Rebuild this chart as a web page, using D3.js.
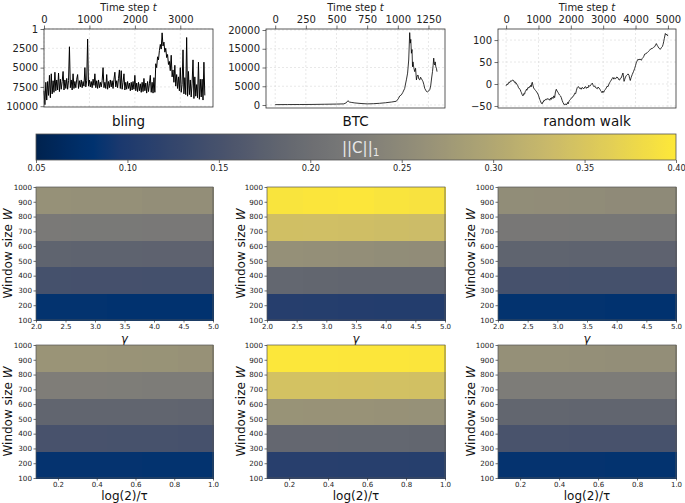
<!DOCTYPE html>
<html><head><meta charset="utf-8">
<script src="https://cdn.jsdelivr.net/npm/d3@7"></script>
<style>
body{margin:0;background:#fff;}
svg{display:block;font-family:"DejaVu Sans",sans-serif;}
</style></head><body>
<svg id="c" width="685" height="503"></svg>
<script>
// ---------------- DATA ----------------
// bling rank, sampled every 20 time steps (t = 0 .. 3540)
const blingStep = 20;
const blingRank = [
 8000,9800,6900,9200,6800,8600,6000,8900,5800,8400,
 6700,8200,5600,8000,6600,7900,5700,8100,6500,7800,
 6800,5500,7900,6600,7700,6400,7800,6700,2300,7600,
 6600,7900,5800,7700,6800,7600,6500,5900,7700,6700,
 7500,6600,7600,6800,7400,5000,7500,6700,1300,7400,
 6600,7500,6800,7600,6500,7300,5800,7600,6700,7700,
 6600,7600,6900,7500,6700,5000,7600,6900,7700,5900,
 7800,6800,7600,6600,7500,6700,7700,6500,5600,7500,
 6700,7600,6400,5300,7700,5400,7800,6900,5800,7900,
 6900,7800,6800,7700,7000,8000,6900,7900,6800,7800,
 6000,8000,7000,8100,6900,8000,7100,8200,6900,8100,
 6400,8000,7000,8300,6800,8100,7100,6000,8200,6900,
 8300,6300,8200,4500,5000,3600,4000,2800,2000,2600,
 500,2200,1700,3000,2500,3700,3300,4600,4200,5400,
 3400,6200,5300,6900,4700,7400,5900,7700,6200,8000,
 5000,8200,7200,2700,8400,6300,8500,1100,8700,5500,
 8500,6600,8800,7000,4000,9000,6200,8700,7200,8900,
 4300,9100,6500,8800,6500,9200,4300,8600
];
// BTC price (USD)
const btcT = [0,100,200,300,400,500,560,580,593,605,620,650,700,750,800,850,900,950,988,1005,1015,1029,1040,1056,1063,1070,
 1080,1089,1097,1102,1106,1111,1116,1120,1124,1130,1138,1145,1152,1158,1165,1172,1179,1186,1193,1200,1206,1213,1220,1227,1234,
 1242,1250,1255,1262,1269,1276,1283,1288,1293,1297,1301,1305,1310,1315,1320];
const btcPrice = [100,120,130,150,200,250,300,600,1150,800,700,550,400,300,350,450,600,800,1000,1700,2400,2700,3300,4400,5600,6700,
 8500,12000,19300,16500,17500,13800,14800,10200,11500,10000,8900,9800,6700,7800,8000,6900,6700,7400,7000,6600,6200,5400,4400,4000,3600,
 3500,3700,3800,4200,5300,7200,8900,10500,12500,11000,10700,11500,10200,9800,8900];
// random walk
const rwT = [0,30,58,85,110,135,161,190,233,255,280,300,315,340,360,380,398,420,440,455,470,495,521,545,573,590,610,630,645,675,
 707,725,740,760,779,795,810,830,851,880,913,945,985,1005,1020,1040,1057,1090,1119,1135,1150,1170,1191,1215,1240,1265,1294,1320,1350,1375,
 1397,1420,1450,1475,1500,1525,1551,1575,1603,1625,1650,1680,1706,1730,1757,1785,1809,1830,1850,1881,1900,1920,1940,1963,1990,2020,2040,2066,
 2100,2120,2149,2175,2200,2221,2250,2270,2293,2320,2345,2375,2400,2430,2457,2480,2505,2530,2555,2575,2602,2630,2664,2690,2715,2740,2760,2787,
 2815,2840,2870,2900,2920,2942,2965,2990,3014,3040,3070,3096,3120,3150,3179,3200,3225,3251,3275,3302,3330,3350,3385,3420,3457,3480,3508,3530,
 3560,3585,3611,3630,3645,3663,3690,3714,3740,3770,3797,3820,3838,3860,3880,3900,3935,3972,4000,4020,4045,4070,4107,4140,4179,4205,4231,4255,
 4282,4320,4355,4395,4437,4470,4519,4550,4591,4620,4642,4670,4694,4730,4766,4800,4828,4850,4869,4890,4921,4945,4972,5000];
const rwValue = [-4,0,-1,4,3,7,6,9,8,4,5,1,2,-2,-3,-8,-9,-12,-13,-17,-19,-24,-27,-22,-23,-17,-16,-12,-14,-8,
 -9,-6,-7,-3,-6,2,4,-3,-9,-12,-15,-18,-23,-27,-30,-35,-38,-44,-45,-41,-41,-37,-38,-35,-36,-33,-35,-34,-37,-32,
 -35,-30,-33,-27,-31,-18,-12,-16,-19,-22,-25,-27,-31,-37,-42,-46,-48,-45,-47,-46,-42,-45,-40,-37,-35,-32,-30,-29,
 -25,-21,-22,-14,-8,-6,-7,-10,-9,-12,-8,-9,-11,-7,-6,-10,-7,-9,-3,-5,-4,-1,2,-3,-6,-4,-8,-9,
 -11,-7,-9,-12,-15,-17,-20,-16,-19,-15,-12,-9,-5,-6,0,3,6,9,12,15,11,14,12,16,14,10,9,13,
 14,20,25,15,6,10,16,19,21,23,20,12,8,14,18,22,28,35,42,48,52,56,55,57,54,58,60,63,
 68,69,71,74,77,80,81,83,85,89,92,88,85,81,79,83,85,90,96,104,115,112,113,109];
const blingXTicks = [0,1000,2000,3000];
const blingYTicks = [1,2500,5000,7500,10000];
const btcXTicks = [0,250,500,750,1000,1250];
const btcYTicks = [0,5000,10000,15000,20000];
const rwXTicks = [0,1000,2000,3000,4000,5000];
const rwYTicks = [-50,0,50,100];
const seriesTitles = ["bling","BTC","random walk"];

// colour bar
const cbDomain = [0.05,0.40];
const cbTicks = [0.05,0.10,0.15,0.20,0.25,0.30,0.35,0.40];

// heat maps: bin edges
const wEdges = [100,280,460,640,820,1000];
const gammaEdges = [2.0,2.6,3.2,3.8,4.4,5.0];
const rateEdges = [0.0866,0.2693,0.4520,0.6346,0.8173,1.0];
const wTicks = [100,200,300,400,500,600,700,800,900,1000];
const gammaTicks = [2.0,2.5,3.0,3.5,4.0,4.5,5.0];
const rateTicks = [0.2,0.4,0.6,0.8,1.0];
// ||C||_1 values; rows = W bins from bottom (100-280) to top (820-1000), columns left to right
const blingGamma = [
 [0.083,0.083,0.082,0.082,0.082],
 [0.148,0.147,0.147,0.146,0.146],
 [0.181,0.180,0.180,0.179,0.179],
 [0.222,0.221,0.221,0.220,0.220],
 [0.263,0.262,0.261,0.259,0.258]];
const btcGamma = [
 [0.109,0.108,0.107,0.106,0.106],
 [0.186,0.185,0.184,0.183,0.183],
 [0.262,0.260,0.258,0.256,0.255],
 [0.340,0.339,0.338,0.336,0.334],
 [0.394,0.396,0.397,0.394,0.392]];
const rwGamma = [
 [0.083,0.083,0.083,0.082,0.082],
 [0.149,0.149,0.148,0.148,0.147],
 [0.181,0.181,0.180,0.180,0.179],
 [0.218,0.218,0.217,0.217,0.216],
 [0.256,0.255,0.254,0.252,0.251]];
const blingRate = [
 [0.084,0.084,0.084,0.083,0.083],
 [0.151,0.151,0.150,0.150,0.149],
 [0.184,0.184,0.183,0.183,0.182],
 [0.229,0.229,0.228,0.227,0.226],
 [0.268,0.268,0.267,0.266,0.264]];
const btcRate = [
 [0.112,0.112,0.111,0.111,0.110],
 [0.187,0.187,0.186,0.186,0.185],
 [0.266,0.265,0.265,0.264,0.263],
 [0.344,0.344,0.343,0.342,0.341],
 [0.398,0.398,0.397,0.397,0.396]];
const rwRate = [
 [0.084,0.084,0.084,0.083,0.083],
 [0.152,0.152,0.151,0.151,0.150],
 [0.185,0.185,0.184,0.184,0.183],
 [0.227,0.227,0.226,0.226,0.225],
 [0.261,0.261,0.260,0.259,0.258]];

// ---------------- DRAW ----------------
const svg = d3.select("#c");
const FRAME = "#333";
// cividis colour map (matplotlib style) as piecewise-linear stops
const cmapT = [0,0.05,0.09,0.13,0.2,0.3,0.4,0.5,0.6,0.7,0.8,0.9,1];
const cmapC = ["#00224e","#002b62","#00326f","#1a386e","#2f436c","#4b546c","#666970","#7c7b78","#948f78","#ada473","#c9b96a","#e3cf55","#fee838"];
const cmap = d3.scaleLinear().domain(cmapT).range(cmapC).interpolate(d3.interpolateRgb).clamp(true);
const norm = d3.scaleLinear().domain(cbDomain).range([0,1]).clamp(true);
const color = v => cmap(norm(v));

function styleAxis(g, fs){
  g.select(".domain").remove();
  g.selectAll(".tick line").attr("stroke", FRAME).attr("stroke-width",0.7);
  g.selectAll(".tick text").attr("fill","#222").style("font-size",fs+"px").style("font-family","DejaVu Sans");
}

function seriesPanel(p){
  const g = svg.append("g");
  const x = d3.scaleLinear().domain(p.xd).range([p.x0,p.x1]);
  const y = d3.scaleLinear().domain(p.yd).range(p.invert ? [p.y0,p.y1] : [p.y1,p.y0]);
  g.append("g").selectAll("line").data(p.xt).join("line")
    .attr("x1",d=>x(d)).attr("x2",d=>x(d)).attr("y1",p.y0).attr("y2",p.y1)
    .attr("stroke","#d9d9d9").attr("stroke-width",0.6).attr("stroke-dasharray","2,2");
  g.append("g").selectAll("line").data(p.yt).join("line")
    .attr("x1",p.x0).attr("x2",p.x1).attr("y1",d=>y(d)).attr("y2",d=>y(d))
    .attr("stroke","#d9d9d9").attr("stroke-width",0.6).attr("stroke-dasharray","2,2");
  const line = d3.line().x(d=>x(d[0])).y(d=>y(d[1]));
  g.append("path").datum(p.data).attr("d",line).attr("fill","none")
    .attr("stroke","#000").attr("stroke-width",p.lw).attr("stroke-linejoin","round");
  g.append("rect").attr("x",p.x0).attr("y",p.y0).attr("width",p.x1-p.x0).attr("height",p.y1-p.y0)
    .attr("fill","none").attr("stroke",FRAME).attr("stroke-width",0.8);
  const ax = g.append("g").attr("transform",`translate(0,${p.y0})`)
    .call(d3.axisTop(x).tickValues(p.xt).tickFormat(d3.format("d")).tickSize(3.5).tickPadding(2.5));
  styleAxis(ax,10);
  const ay = g.append("g").attr("transform",`translate(${p.x0},0)`)
    .call(d3.axisLeft(y).tickValues(p.yt).tickFormat(d=>String(d).replace("-","\u2212")).tickSize(3.5).tickPadding(2.5));
  styleAxis(ay,10);
  const lab = g.append("text").attr("x",(p.x0+p.x1)/2).attr("y",11).attr("text-anchor","middle")
    .style("font-size","10px").attr("fill","#222");
  lab.append("tspan").text("Time step ");
  lab.append("tspan").attr("font-style","italic").text("t");
  g.append("text").attr("x",(p.x0+p.x1)/2).attr("y",126).attr("text-anchor","middle")
    .style("font-size","13.5px").attr("fill","#111").text(p.title);
}

seriesPanel({x0:44,x1:213,y0:29,y1:107,xd:[0,3720],yd:[1,10100],invert:true,xt:blingXTicks,yt:blingYTicks,
  data:blingRank.map((v,i)=>[i*blingStep,v]),lw:1.0,title:seriesTitles[0]});
seriesPanel({x0:266,x1:445,y0:29,y1:108,xd:[-75,1385],yd:[-800,20267],xt:btcXTicks,yt:btcYTicks,
  data:btcT.map((t,i)=>[t,btcPrice[i]]),lw:0.8,title:seriesTitles[1]});
seriesPanel({x0:498,x1:676,y0:29,y1:108,xd:[-250,5250],yd:[-54.6,125.2],xt:rwXTicks,yt:rwYTicks,
  data:rwT.map((t,i)=>[t,rwValue[i]]),lw:0.8,title:seriesTitles[2]});

// colour bar
(function(){
  const x0=36,x1=676,y0=134,y1=160;
  const cx = d3.scaleLinear().domain(cbDomain).range([x0,x1]);
  const defs = svg.append("defs");
  const grad = defs.append("linearGradient").attr("id","cbg").attr("x1","0%").attr("x2","100%");
  d3.range(0,1.0001,0.01).forEach(f=>{
    grad.append("stop").attr("offset",(f*100)+"%").attr("stop-color",cmap(f));
  });
  svg.append("rect").attr("x",x0).attr("y",y0).attr("width",x1-x0).attr("height",y1-y0).attr("fill","url(#cbg)")
    .attr("stroke","#555").attr("stroke-width",0.8);
  const ax = svg.append("g").attr("transform",`translate(0,${y1})`)
    .call(d3.axisBottom(cx).tickValues(cbTicks).tickFormat(d3.format(".2f")).tickSize(3).tickPadding(2));
  styleAxis(ax,8.2);
  const t = svg.append("text").attr("x",342).attr("y",153).style("font-size","15px").attr("fill","#e8e8e8");
  t.append("tspan").text("||C||");
  t.append("tspan").attr("dy",3).style("font-size","10.5px").text("1");
})();

// heat maps
function heatPanel(p){
  const g = svg.append("g");
  const x = d3.scaleLinear().domain([p.edges[0],p.edges[p.edges.length-1]]).range([p.x0,p.x1]);
  const y = d3.scaleLinear().domain([wEdges[0],wEdges[wEdges.length-1]]).range([p.y1,p.y0]);
  const cells = [];
  p.vals.forEach((row,r)=>row.forEach((v,c)=>cells.push({r,c,v})));
  g.selectAll("rect.cell").data(cells).join("rect")
    .attr("x",d=>x(p.edges[d.c])).attr("width",d=>x(p.edges[d.c+1])-x(p.edges[d.c])+0.5)
    .attr("y",d=>y(wEdges[d.r+1])).attr("height",d=>y(wEdges[d.r])-y(wEdges[d.r+1])+0.5)
    .attr("fill",d=>color(d.v)).attr("shape-rendering","crispEdges");
  g.append("rect").attr("x",p.x0).attr("y",p.y0).attr("width",p.x1-p.x0).attr("height",p.y1-p.y0)
    .attr("fill","none").attr("stroke","#555").attr("stroke-width",0.7);
  const ax = g.append("g").attr("transform",`translate(0,${p.y1})`)
    .call(d3.axisBottom(x).tickValues(p.ticks).tickFormat(d3.format(".1f")).tickSize(2.5).tickPadding(1.2));
  styleAxis(ax,7);
  const ay = g.append("g").attr("transform",`translate(${p.x0},0)`)
    .call(d3.axisLeft(y).tickValues(wTicks).tickFormat(d3.format("d")).tickSize(2.5).tickPadding(1.5));
  styleAxis(ay,7.2);
  const yl = g.append("text").attr("transform",`translate(${p.ylx},${(p.y0+p.y1)/2}) rotate(-90)`)
    .attr("text-anchor","middle").style("font-size","12px").attr("fill","#111");
  yl.append("tspan").text("Window size ");
  yl.append("tspan").attr("font-style","italic").text("W");
  const xl = g.append("text").attr("x",(p.x0+p.x1)/2).attr("y",p.xly).attr("text-anchor","middle")
    .style("font-size",p.xlfs+"px").attr("fill","#111");
  if (p.italic) xl.attr("font-style","italic");
  xl.text(p.xlabel);
}
const cols = [{x0:36,x1:213,ylx:12},{x0:267,x1:445,ylx:245},{x0:498,x1:676,ylx:475}];
const row1 = [blingGamma, btcGamma, rwGamma];
const row2 = [blingRate, btcRate, rwRate];
cols.forEach((c,i)=>{
  heatPanel({x0:c.x0,x1:c.x1,y0:187,y1:320,ylx:c.ylx,edges:gammaEdges,ticks:gammaTicks,vals:row1[i],
    xlabel:"\u03b3",xly:342.5,xlfs:11.5,italic:true});
  heatPanel({x0:c.x0,x1:c.x1,y0:345,y1:478,ylx:c.ylx,edges:rateEdges,ticks:rateTicks,vals:row2[i],
    xlabel:"log(2)/\u03c4",xly:499.5,xlfs:12,italic:false});
});
</script>
</body></html>
